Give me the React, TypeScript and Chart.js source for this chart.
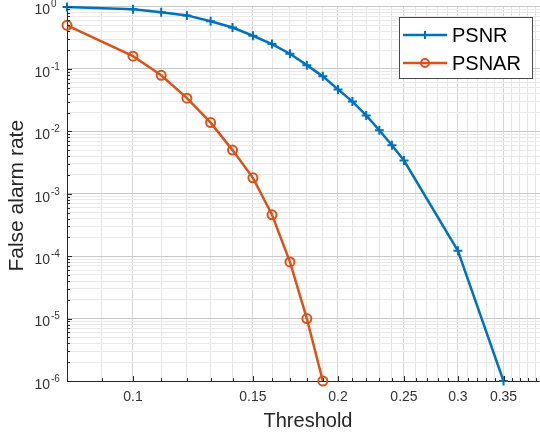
import React, { useEffect, useRef } from 'react';
import { Chart, registerables } from 'chart.js';

Chart.register(...registerables);

// ---- data ----
const thresholdsPSNR = [0.08, 0.10, 0.11, 0.12, 0.13, 0.14, 0.15, 0.16, 0.17, 0.18, 0.19, 0.20, 0.21, 0.22, 0.23, 0.24, 0.25, 0.30, 0.35];
const farPSNR = [0.98, 0.90, 0.81, 0.72, 0.58, 0.46, 0.34, 0.25, 0.175, 0.115, 0.076, 0.047, 0.030, 0.018, 0.0104, 0.006, 0.0034, 1.22e-4, 1e-6];
const thresholdsPSNAR = [0.08, 0.10, 0.11, 0.12, 0.13, 0.14, 0.15, 0.16, 0.17, 0.18, 0.19];
const farPSNAR = [0.5, 0.16, 0.079, 0.034, 0.0138, 0.005, 0.0018, 4.6e-4, 8.1e-5, 1e-5, 1e-6];
const xTickLabels = [0.1, 0.15, 0.2, 0.25, 0.3, 0.35];
const xTickText = ['0.1', '0.15', '0.2', '0.25', '0.3', '0.35'];
const xGridValues = [0.08, 0.09, 0.1, 0.11, 0.12, 0.13, 0.14, 0.15, 0.16, 0.17, 0.18, 0.19, 0.2, 0.21, 0.22, 0.23, 0.24, 0.25, 0.26, 0.27, 0.28, 0.29, 0.3, 0.31, 0.32, 0.33, 0.34, 0.35, 0.36, 0.37, 0.38, 0.39, 0.4];
const yDecadeExponents = [-6, -5, -4, -3, -2, -1, 0];
const yMinorMultipliers = [1, 2, 3, 4, 5, 6, 7, 8, 9];
const seriesNames = ['PSNR', 'PSNAR'];
const xTitle = 'Threshold';
const yTitle = 'False alarm rate';

const BLUE = '#0072BD';
const ORANGE = '#D95319';
const AXIS = '#262626';
const FONT = '"Liberation Sans", Arial, Helvetica, sans-serif';

const yGridValues: number[] = [];
yDecadeExponents.forEach((d) => {
  if (d === 0) { yGridValues.push(1); return; }
  yMinorMultipliers.forEach((m) => yGridValues.push(m * Math.pow(10, d)));
});

const isMajorX = (v: number) => xTickLabels.some((t) => Math.abs(t - v) < 1e-9);
const isMajorY = (v: number) => Math.abs(Math.log10(v) - Math.round(Math.log10(v))) < 1e-9;

const overlay = {
  id: 'overlay',
  afterDraw(chart: any) {
    const ctx: CanvasRenderingContext2D = chart.ctx;
    const { left, right, top, bottom } = chart.chartArea;
    const xs = chart.scales.x;
    const ys = chart.scales.y;
    ctx.save();

    // inward tick marks
    ctx.strokeStyle = AXIS;
    ctx.lineWidth = 1;
    ctx.beginPath();
    xGridValues.forEach((v) => {
      const px = Math.round(xs.getPixelForValue(v)) + 0.5;
      const len = isMajorX(v) ? 5 : 3;
      ctx.moveTo(px, bottom);
      ctx.lineTo(px, bottom - len);
    });
    yGridValues.forEach((v) => {
      const py = Math.round(ys.getPixelForValue(v)) + 0.5;
      const len = isMajorY(v) ? 5 : 3;
      ctx.moveTo(left, py);
      ctx.lineTo(left + len, py);
    });
    ctx.stroke();

    // x tick labels
    ctx.fillStyle = '#333333';
    ctx.font = `14px ${FONT}`;
    ctx.textAlign = 'center';
    ctx.textBaseline = 'middle';
    xTickLabels.forEach((v, i) => {
      ctx.fillText(xTickText[i], xs.getPixelForValue(v), bottom + 16);
    });

    // y tick labels with superscript exponents
    yDecadeExponents.forEach((d) => {
      const py = ys.getPixelForValue(Math.pow(10, d));
      ctx.font = `14px ${FONT}`;
      ctx.textAlign = 'right';
      ctx.textBaseline = 'middle';
      ctx.fillText('10', 50, py + 4);
      ctx.font = `10px ${FONT}`;
      ctx.textAlign = 'left';
      ctx.fillText(String(d), 51, py - 2);
    });

    // axis titles
    ctx.fillStyle = '#262626';
    ctx.font = `20px ${FONT}`;
    ctx.textAlign = 'center';
    ctx.textBaseline = 'middle';
    ctx.fillText(xTitle, (left + right) / 2 + 3, 421);
    ctx.save();
    ctx.translate(17, (top + bottom) / 2 + 2);
    ctx.rotate(-Math.PI / 2);
    ctx.font = `21px ${FONT}`;
    ctx.fillText(yTitle, 0, 0);
    ctx.restore();

    // legend
    const bx = 399, by = 17, bw = 133, bh = 61;
    ctx.fillStyle = '#ffffff';
    ctx.fillRect(bx, by, bw, bh);
    ctx.strokeStyle = '#4a4a4a';
    ctx.lineWidth = 1;
    ctx.strokeRect(bx + 0.5, by + 0.5, bw, bh);
    const rows = [35, 63];
    chart.data.datasets.forEach((ds: any, i: number) => {
      const ry = rows[i];
      ctx.strokeStyle = ds.borderColor;
      ctx.lineWidth = 2.5;
      ctx.beginPath();
      ctx.moveTo(403, ry);
      ctx.lineTo(447, ry);
      ctx.stroke();
      ctx.lineWidth = 2;
      ctx.beginPath();
      if (ds.pointStyle === 'cross') {
        ctx.moveTo(425, ry - 4);
        ctx.lineTo(425, ry + 4);
        ctx.moveTo(421, ry);
        ctx.lineTo(429, ry);
      } else {
        ctx.arc(425, ry, 4, 0, Math.PI * 2);
      }
      ctx.stroke();
      ctx.fillStyle = '#000000';
      ctx.font = `20px ${FONT}`;
      ctx.textAlign = 'left';
      ctx.textBaseline = 'middle';
      ctx.fillText(ds.label, 452, ry + 1);
    });

    ctx.restore();
  },
};

export default function App() {
  const canvasRef = useRef<HTMLCanvasElement | null>(null);

  useEffect(() => {
    if (!canvasRef.current) return;
    const chart = new Chart(canvasRef.current, {
      type: 'line',
      data: {
        datasets: [
          {
            label: seriesNames[0],
            data: thresholdsPSNR.map((x, i) => ({ x, y: farPSNR[i] })),
            borderColor: BLUE,
            backgroundColor: BLUE,
            borderWidth: 2.5,
            pointStyle: 'cross',
            pointRadius: 4.5,
            pointBorderWidth: 2,
            pointBorderColor: BLUE,
            fill: false,
            tension: 0,
            clip: false as any,
          },
          {
            label: seriesNames[1],
            data: thresholdsPSNAR.map((x, i) => ({ x, y: farPSNAR[i] })),
            borderColor: ORANGE,
            backgroundColor: 'rgba(0,0,0,0)',
            borderWidth: 2.5,
            pointStyle: 'circle',
            pointRadius: 4.5,
            pointBorderWidth: 2,
            pointBorderColor: ORANGE,
            pointBackgroundColor: 'rgba(0,0,0,0)',
            fill: false,
            tension: 0,
            clip: false as any,
          },
        ],
      },
      options: {
        responsive: false,
        animation: false,
        devicePixelRatio: 1,
        layout: { padding: { left: 0, top: 5, right: 17, bottom: 0 } },
        plugins: {
          legend: { display: false },
          tooltip: { enabled: false },
        },
        scales: {
          x: {
            type: 'logarithmic',
            min: 0.08,
            max: 0.4,
            afterBuildTicks: (scale: any) => {
              scale.ticks = xGridValues.map((v) => ({ value: v, major: isMajorX(v) }));
            },
            afterFit: (scale: any) => { scale.height = 57; },
            ticks: { display: false, autoSkip: false },
            grid: {
              drawTicks: false,
              color: (c: any) => (c.tick && c.tick.major ? '#d6d6d6' : '#e6e6e6'),
              lineWidth: 1,
            },
            border: { display: true, color: AXIS, width: 1 },
          },
          y: {
            type: 'logarithmic',
            min: 1e-6,
            max: 1,
            afterBuildTicks: (scale: any) => {
              scale.ticks = yGridValues.map((v) => ({ value: v, major: isMajorY(v) }));
            },
            afterFit: (scale: any) => { scale.width = 67; },
            ticks: { display: false, autoSkip: false },
            grid: {
              drawTicks: false,
              color: (c: any) => (c.tick && c.tick.major ? '#c8c8c8' : '#e8e8e8'),
              lineWidth: 1,
            },
            border: { display: true, color: AXIS, width: 1 },
          },
        },
      },
      plugins: [overlay],
    } as any);
    return () => chart.destroy();
  }, []);

  return (
    <div style={{ position: 'fixed', left: 0, top: 0, width: 540, height: 438, overflow: 'hidden', background: '#ffffff' }}>
      <canvas ref={canvasRef} width={560} height={438} style={{ display: 'block' }} />
    </div>
  );
}
